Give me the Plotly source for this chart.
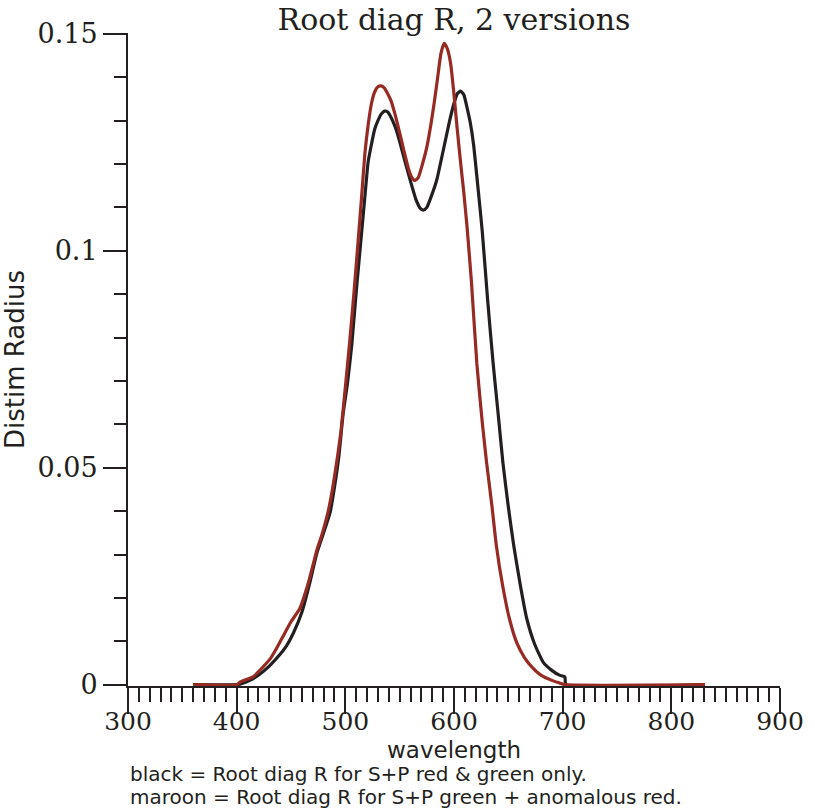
import plotly.graph_objects as go

# ---- data ----
black_x = [360, 400, 405, 412, 420, 430, 440, 446, 452, 460, 467, 474, 480, 486, 490,
           494, 498, 502, 506, 510, 514, 518, 521, 524, 527, 530, 533, 536, 539, 542,
           546, 550, 555, 560, 565, 569, 572, 575, 579, 584, 590, 596, 600, 603, 606,
           609, 612, 615, 618, 622, 626, 631, 636, 641, 645, 650, 655, 661, 667, 674,
           682, 690, 697, 702, 703, 831]
black_y = [0, 0, 0.0003, 0.001, 0.0022, 0.0043, 0.007, 0.009, 0.0118, 0.0167, 0.0232,
           0.0305, 0.035, 0.0397, 0.0455, 0.0525, 0.0625, 0.0695, 0.0785, 0.0905, 0.1015,
           0.1125, 0.1205, 0.1245, 0.128, 0.1300, 0.1315, 0.1322, 0.1320, 0.1308, 0.1285,
           0.1252, 0.1205, 0.1160, 0.1118, 0.1098, 0.1094, 0.1100, 0.1125, 0.1162, 0.1230,
           0.1300, 0.1340, 0.1362, 0.1368, 0.1360, 0.1330, 0.1295, 0.1245, 0.1147, 0.1045,
           0.0885, 0.0741, 0.0615, 0.0512, 0.0410, 0.0320, 0.0230, 0.0152, 0.0095, 0.0052,
           0.0033, 0.0022, 0.0018, 0, 0]

maroon_x = [360, 400, 403, 409, 415, 422, 431, 437, 443, 450, 458, 466, 474, 479, 484,
            488, 492, 496, 500, 504, 508, 512, 515, 518, 521, 524, 527, 530, 533, 536,
            539, 542, 546, 550, 554, 558, 561, 564, 567, 571, 575, 579, 582, 585, 588,
            591, 594, 597, 600, 603, 606, 609, 612, 616, 621, 626, 630, 635, 639, 645,
            651, 658, 665, 672, 680, 690, 697, 702, 831]
maroon_y = [0, 0, 0.0006, 0.0012, 0.0018, 0.0035, 0.006, 0.0085, 0.0113, 0.0145, 0.0175,
            0.0235, 0.0312, 0.035, 0.0397, 0.0448, 0.0512, 0.0585, 0.0685, 0.0790, 0.0905,
            0.1030, 0.1125, 0.1224, 0.1290, 0.1339, 0.1366, 0.1378, 0.1380, 0.1375, 0.1362,
            0.1346, 0.1312, 0.1272, 0.1230, 0.1190, 0.1170, 0.1162, 0.1168, 0.1200, 0.1239,
            0.1295, 0.1345, 0.1400, 0.1455, 0.1478, 0.1465, 0.1430, 0.1360, 0.1280, 0.1205,
            0.1135, 0.1055, 0.0930, 0.0741, 0.0605, 0.0512, 0.0410, 0.0320, 0.0225, 0.0152,
            0.0095, 0.0062, 0.0040, 0.0022, 0.0010, 0.0004, 0, 0]

x_tickvals = [300, 400, 500, 600, 700, 800, 900]
y_tickvals = [0, 0.05, 0.1, 0.15]
y_ticktext = ["0", "0.05", "0.1", "0.15"]

title_text = "Root diag R, 2 versions"
x_title = "wavelength"
y_title = "Distim Radius"
notes = ["black = Root diag R for S+P red & green only.",
         "maroon = Root diag R for S+P green + anomalous red."]

INK = "#231f20"
MAROON = "#982a24"
SERIF = "DejaVu Serif"
SANS = "DejaVu Sans"

W, H = 815, 808
ML, MR, MT, MB = 128, 35, 33, 122
plot_h = H - MT - MB


def ypaper(ypx):
    return 1 - (ypx - MT) / plot_h


fig = go.Figure()
fig.add_trace(go.Scatter(x=black_x, y=black_y, mode="lines",
                         line=dict(color=INK, width=3.2, shape="spline", smoothing=0.5),
                         showlegend=False))
fig.add_trace(go.Scatter(x=maroon_x, y=maroon_y, mode="lines",
                         line=dict(color=MAROON, width=3.2, shape="spline", smoothing=0.5),
                         showlegend=False))

fig.update_layout(
    width=W, height=H,
    margin=dict(l=ML, r=MR, t=MT, b=MB, autoexpand=False),
    paper_bgcolor="white", plot_bgcolor="white",
    title=dict(text=title_text, x=0.5, xref="paper", xanchor="center",
               y=1 - 19 / H, yref="container", yanchor="middle",
               font=dict(family=SERIF, size=30, color=INK)),
    showlegend=False,
)

fig.update_xaxes(
    range=[300, 900], tickvals=x_tickvals, automargin=False,
    showgrid=False, zeroline=False,
    showline=True, linecolor=INK, linewidth=2, layer="below traces",
    ticks="outside", ticklen=26, tickwidth=2, tickcolor=INK,
    ticklabelstandoff=-14,
    tickfont=dict(family=SERIF, size=25, color=INK),
    minor=dict(dtick=10, ticks="outside", ticklen=14, tickwidth=1.5, tickcolor=INK,
               showgrid=False),
)
fig.update_yaxes(
    range=[-0.0003, 0.1502], tickvals=y_tickvals, ticktext=y_ticktext, automargin=False,
    showgrid=False, zeroline=False,
    showline=True, linecolor=INK, linewidth=2, layer="below traces",
    ticks="outside", ticklen=23, tickwidth=2, tickcolor=INK,
    tickfont=dict(family=SERIF, size=27, color=INK),
    minor=dict(tickvals=[0.01, 0.02, 0.03, 0.04, 0.06, 0.07, 0.08, 0.09,
                         0.11, 0.12, 0.13, 0.14],
               ticks="outside", ticklen=12, tickwidth=1.5, tickcolor=INK,
               showgrid=False),
    title=dict(text=y_title, standoff=6, font=dict(family=SANS, size=26, color=INK)),
)

# x-axis title placed just under the tick labels
fig.add_annotation(text=x_title, xref="paper", yref="paper",
                   x=0.5, y=ypaper(750), xanchor="center", yanchor="middle",
                   showarrow=False, borderpad=0,
                   font=dict(family=SANS, size=23, color=INK))

for txt, ypx in zip(notes, [774, 797]):
    fig.add_annotation(text=txt, xref="paper", yref="paper",
                       x=0.002, y=ypaper(ypx),
                       xanchor="left", yanchor="middle", showarrow=False,
                       borderpad=0,
                       font=dict(family=SANS, size=20, color=INK))

fig.write_html("out.html", config={"displayModeBar": False},
               post_script="document.body.style.margin='0';document.body.style.overflow='hidden';")
